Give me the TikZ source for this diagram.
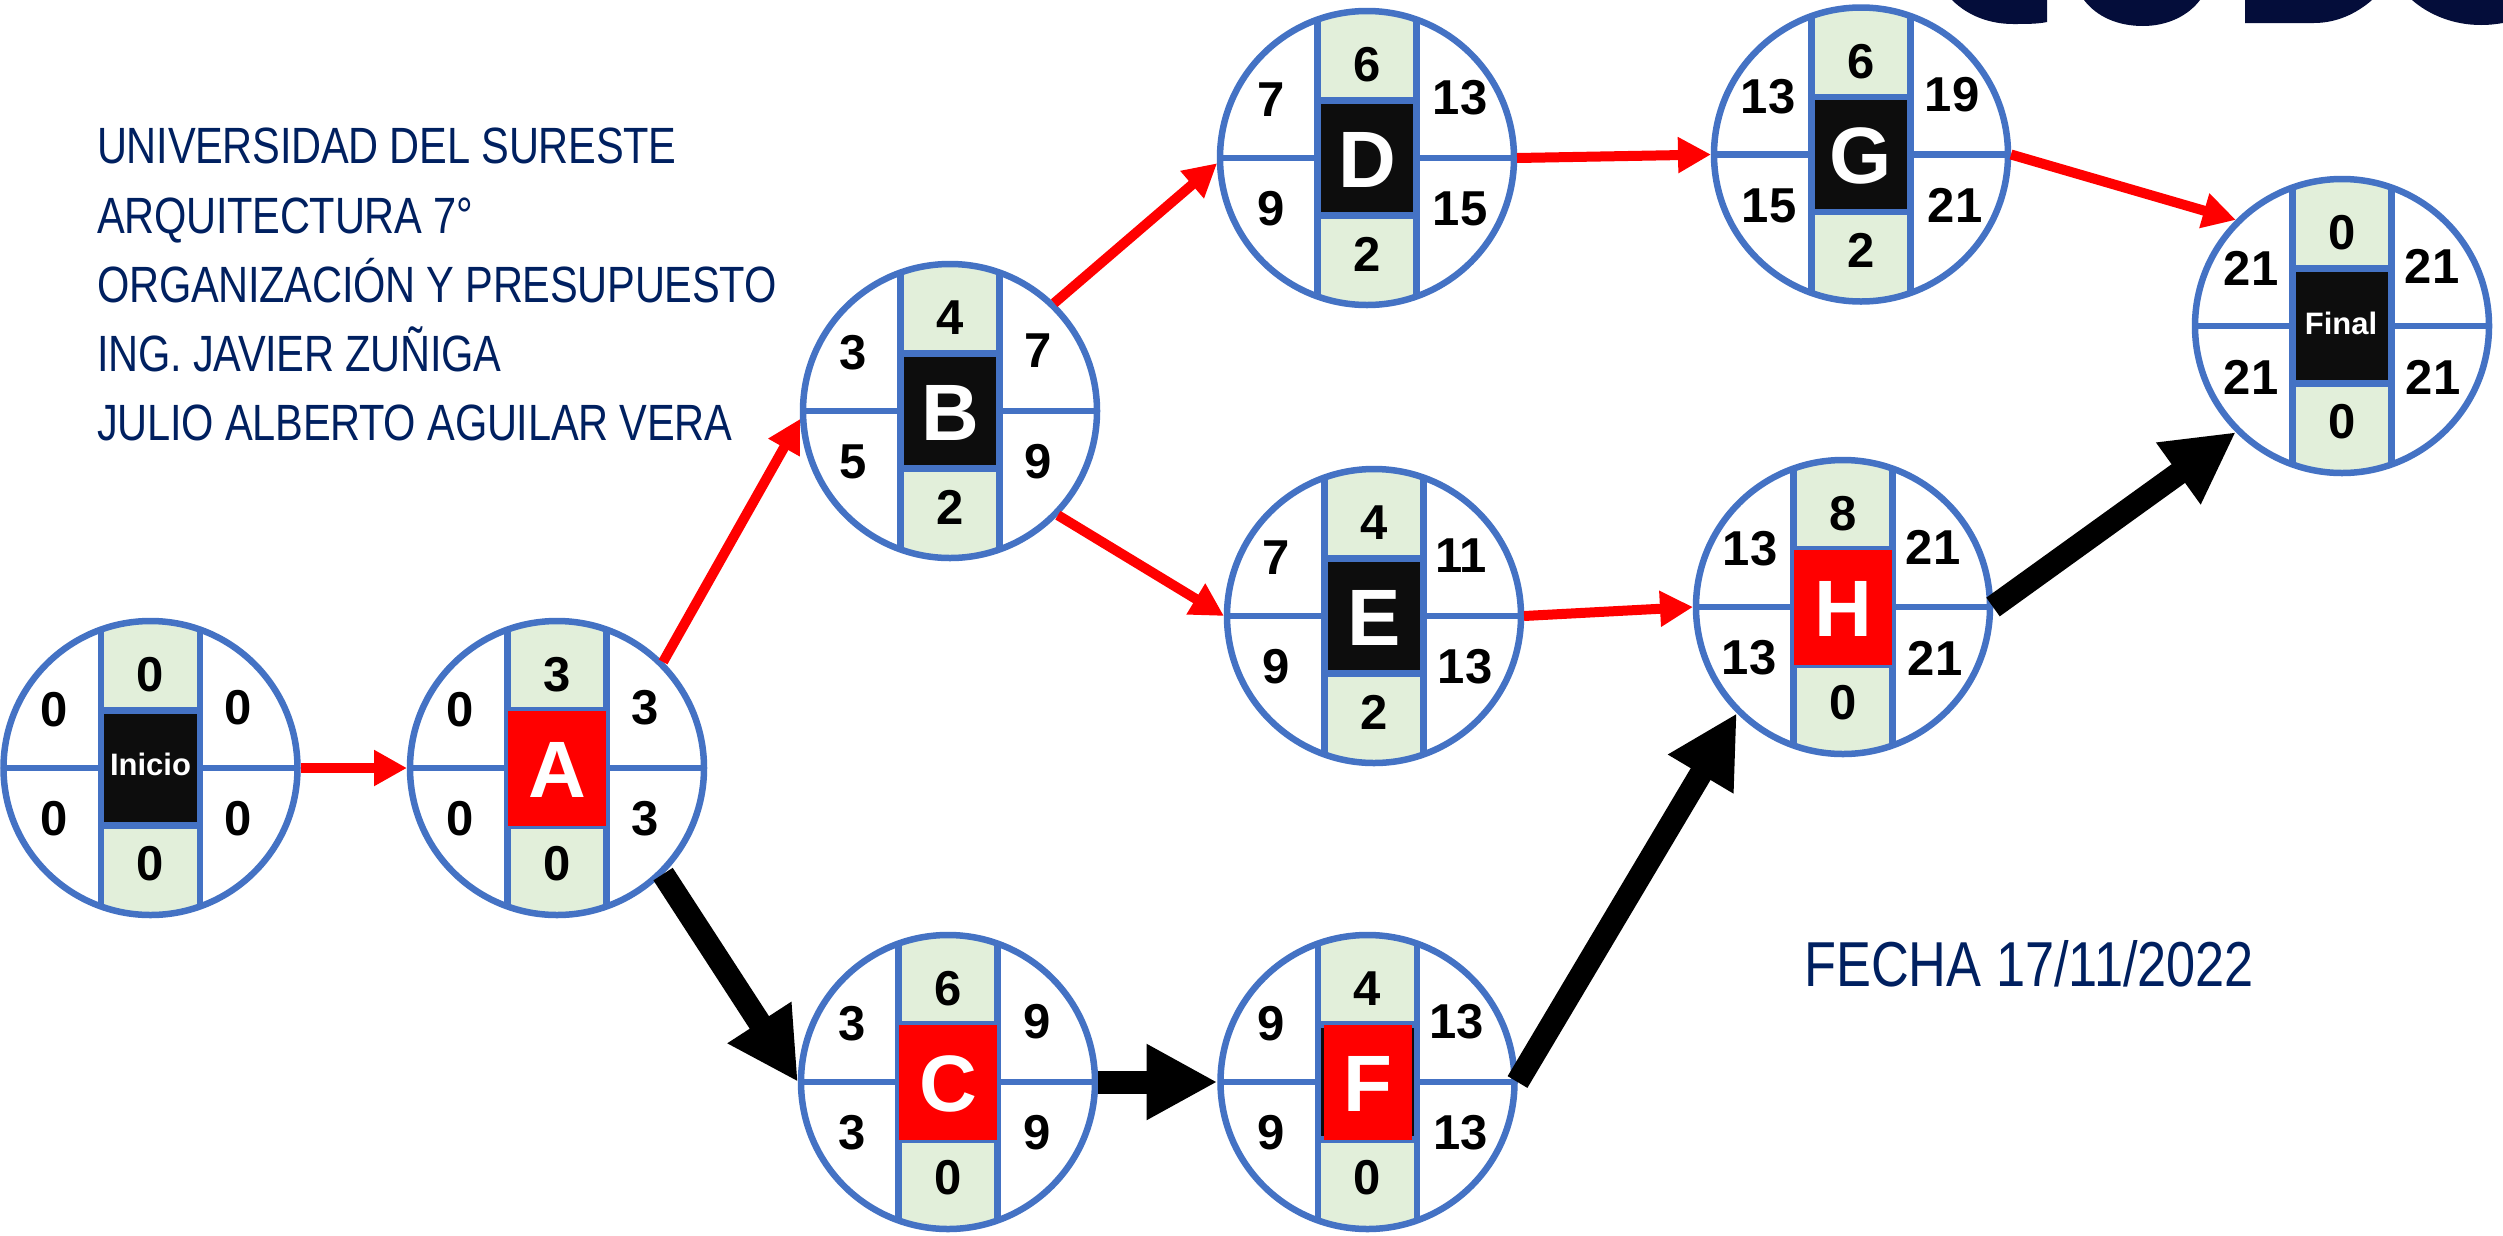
\documentclass[tikz,border=0pt]{standalone}
\usepackage{fontspec}
\setmainfont{Liberation Sans}
\newfontfamily\titlefont[FakeStretch=0.815,LetterSpace=-0.5]{Liberation Sans}
\newfontfamily\datefont[FakeStretch=0.824]{Liberation Sans}
\usetikzlibrary{arrows.meta}
\definecolor{ringblue}{HTML}{4472C4}
\definecolor{bandgreen}{HTML}{E2EFDA}
\definecolor{boxblack}{HTML}{0D0D0D}
\definecolor{navy}{HTML}{002060}
\definecolor{logonavy}{HTML}{040D3A}
\tikzset{
  x=1pt,y=-1pt,
  ring/.style={circle,minimum size=300pt,inner sep=0pt,outer sep=0pt},
  part/.style={draw=ringblue,line width=6.5pt},
  num/.style={font=\fontsize{49}{49}\bfseries,text=black,inner sep=0pt},
  letter/.style={font=\fontsize{80}{80}\bfseries,text=white,inner sep=0pt,anchor=base},
  word/.style={font=\fontsize{31}{31}\bfseries,text=white,inner sep=0pt,anchor=base},
  redarrow/.style={draw=red,line width=10pt,-{Triangle[length=33pt,width=34pt]}},
  blackarrow/.style={draw=black,line width=23pt,-{Triangle[length=71pt,width=71pt]}},
  title/.style={anchor=base west,text=navy,inner sep=0pt,font=\fontsize{51}{51}\titlefont},
  datetext/.style={anchor=base west,text=navy,inner sep=0pt,font=\fontsize{63.5}{63.5}\datefont},
  logo/.style={fill=logonavy},
}
\newcommand{\pertring}[3]{%
  \node[ring] (#1) at (#2,#3) {};
  \begin{scope}
    \clip (#2,#3) circle (147);
    \fill[bandgreen] (#2-49,#3-150) rectangle (#2+49,#3+150);
    \draw[part] (#2-150,#3) -- (#2+150,#3);
    \draw[part] (#2-49.5,#3-150) -- (#2-49.5,#3+150);
    \draw[part] (#2+49.5,#3-150) -- (#2+49.5,#3+150);
  \end{scope}
  \draw[part] (#2,#3) circle (147);
}
% black centre box
\newcommand{\blackbox}[3]{%
  \fill[boxblack,draw=ringblue,line width=6.5pt] (#2-49.5,#3-57.3) rectangle (#2+49.5,#3+57.3);
}
% red centre box, half width as 4th argument
\newcommand{\redbox}[4]{%
  \draw[part] (#2-49,#3-57.3) -- (#2+49,#3-57.3) (#2-49,#3+57.3) -- (#2+49,#3+57.3);
  \fill[red] (#2-#4,#3-57.5) rectangle (#2+#4,#3+57.5);
}
\newcommand{\xoff}[4]{\def\tlx{#1}\def\trx{#2}\def\blx{#3}\def\brx{#4}}
\newcommand{\pertvals}[9]{%
  \node[num] (#1tl) at (#2+\tlx,#3-58) {#4};
  \node[num] (#1tr) at (#2+\trx,#3-60) {#5};
  \node[num] (#1bl) at (#2+\blx,#3+51) {#6};
  \node[num] (#1br) at (#2+\brx,#3+51) {#7};
  \node[num] (#1top) at (#2,#3-93) {#8};
  \node[num] (#1bot) at (#2,#3+96) {#9};
}
\begin{document}
\begin{tikzpicture}
\useasboundingbox (0,0) rectangle (2503,1235);
\fill[white] (0,0) rectangle (2503,1235);

% Inicio
\pertring{I}{150.5}{768}\blackbox{I}{150.5}{768}
\node[word] (Ilab) at (150.5,775) {Inicio};
\xoff{-96}{88}{-96}{88}\pertvals{I}{150.5}{768}{0}{0}{0}{0}{0}{0}
% A
\pertring{A}{557}{768}\redbox{A}{557}{768}{48.7}
\node[letter] (Alab) at (557,797) {A};
\xoff{-97}{88}{-97}{88}\pertvals{A}{557}{768}{0}{3}{0}{3}{3}{0}
% B
\pertring{B}{950}{411}\blackbox{B}{950}{411}
\node[letter] (Blab) at (950,440) {B};
\xoff{-97}{88}{-97}{88}\pertvals{B}{950}{411}{3}{7}{5}{9}{4}{2}
% C
\pertring{C}{948}{1082}\redbox{C}{948}{1082}{48.7}
\node[letter] (Clab) at (948,1111) {C};
\xoff{-96}{89}{-96}{89}\pertvals{C}{948}{1082}{3}{9}{3}{9}{6}{0}
% D
\pertring{D}{1367}{158}\blackbox{D}{1367}{158}
\node[letter] (Dlab) at (1367,187) {D};
\xoff{-96}{93}{-96}{93}\pertvals{D}{1367}{158}{7}{13}{9}{15}{6}{2}
% E
\pertring{E}{1374}{616}\blackbox{E}{1374}{616}
\node[letter] (Elab) at (1374,645) {E};
\xoff{-98}{87}{-98}{91}\pertvals{E}{1374}{616}{7}{11}{9}{13}{4}{2}
% F
\pertring{F}{1367.5}{1082}\blackbox{F}{1367.5}{1082}\redbox{F}{1367.5}{1082}{44}
\node[letter] (Flab) at (1367.5,1111) {F};
\xoff{-96}{89}{-96}{93}\pertvals{F}{1367.5}{1082}{9}{13}{9}{13}{4}{0}
% G
\pertring{G}{1861}{154.5}\blackbox{G}{1861}{154.5}
\node[letter] (Glab) at (1861,183.5) {G};
\xoff{-93}{91}{-92}{94}\pertvals{G}{1861}{154.5}{13}{19}{15}{21}{6}{2}
% H
\pertring{H}{1843}{607}\redbox{H}{1843}{607}{48.7}
\node[letter] (Hlab) at (1843,636) {H};
\xoff{-93}{90}{-94}{92}\pertvals{H}{1843}{607}{13}{21}{13}{21}{8}{0}
% Final
\pertring{Z}{2342}{326}\blackbox{Z}{2342}{326}
\node[word] (Zlab) at (2341,334) {Final};
\xoff{-91}{90}{-91}{91}\pertvals{Z}{2342}{326}{21}{21}{21}{21}{0}{0}

\draw[redarrow] (I.east) -- (A.west);
\draw[redarrow] (A.45) -- (B.183);
\draw[redarrow] (B.46) -- (D.182);
\draw[redarrow] (B.-44) -- (E.west);
\draw[redarrow] (D.east) -- (G.west);
\draw[redarrow] (E.east) -- (H.west);
\draw[redarrow] (G.east) -- (Z.135);
\draw[blackarrow] (A.-45) -- (C.west);
\draw[blackarrow] (C.east) -- (F.west);
\draw[blackarrow] (F.east) -- (H.225);
\draw[blackarrow] (H.east) -- (Z.225);

\node[title] (t1) at (97,163) {UNIVERSIDAD DEL SURESTE};
\node[title] (t2) at (97,233) {ARQUITECTURA 7°};
\node[title] (t3) at (97,302) {ORGANIZACIÓN Y PRESUPUESTO};
\node[title] (t4) at (97,371) {ING. JAVIER ZUÑIGA};
\node[title] (t5) at (97,440) {JULIO ALBERTO AGUILAR VERA};
\node[datetext] (t6) at (1804,986) {FECHA 17/11/2022};

\fill[logo] (1952,0) .. controls (1968,16) and (1990,24) .. (2013,24) .. controls (2026,24) and (2038,24) .. (2047,22) -- (2047,0) -- cycle;
\fill[logo] (2084,0) .. controls (2097,17) and (2118,26) .. (2143,26) .. controls (2167,26) and (2188,16) .. (2200,0) -- cycle;
\fill[logo] (2245,0) -- (2245,23) -- (2314,23) .. controls (2336,23) and (2356,14) .. (2372,0) -- cycle;
\fill[logo] (2412,0) .. controls (2428,14) and (2452,25) .. (2481,25) .. controls (2490,25) and (2497,24) .. (2503,23) -- (2503,0) -- cycle;
\end{tikzpicture}
\end{document}
